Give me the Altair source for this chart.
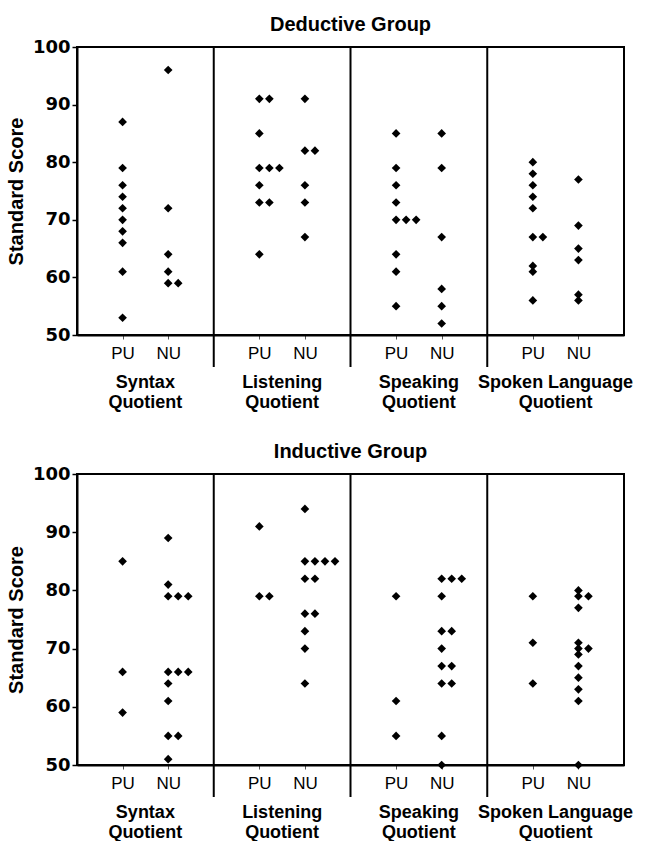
import altair as alt
import pandas as pd

subtests = ["Syntax\nQuotient", "Listening\nQuotient", "Speaking\nQuotient", "Spoken Language\nQuotient"]
units = ["PU", "NU"]

# Deductive group scores
ded_syntax_pu = [87, 79, 76, 74, 72, 70, 68, 66, 61, 53]
ded_syntax_nu = [96, 72, 64, 61, 59, 59]
ded_listen_pu = [91, 91, 85, 79, 79, 79, 76, 73, 73, 64]
ded_listen_nu = [91, 82, 82, 76, 73, 67]
ded_speak_pu = [85, 79, 76, 73, 70, 70, 70, 64, 61, 55]
ded_speak_nu = [85, 79, 67, 58, 55, 52]
ded_spoken_pu = [80, 78, 76, 74, 72, 67, 67, 62, 61, 56]
ded_spoken_nu = [77, 69, 65, 63, 57, 56]

# Inductive group scores
ind_syntax_pu = [85, 66, 59]
ind_syntax_nu = [89, 81, 79, 79, 79, 66, 66, 66, 64, 61, 55, 55, 51]
ind_listen_pu = [91, 79, 79]
ind_listen_nu = [94, 85, 85, 85, 85, 82, 82, 76, 76, 73, 70, 64]
ind_speak_pu = [79, 61, 55]
ind_speak_nu = [82, 82, 82, 79, 73, 73, 70, 67, 67, 64, 64, 55, 50]
ind_spoken_pu = [79, 71, 64]
ind_spoken_nu = [80, 79, 79, 77, 71, 70, 70, 69, 67, 65, 63, 61, 50]

deductive = [(ded_syntax_pu, ded_syntax_nu), (ded_listen_pu, ded_listen_nu),
             (ded_speak_pu, ded_speak_nu), (ded_spoken_pu, ded_spoken_nu)]
inductive = [(ind_syntax_pu, ind_syntax_nu), (ind_listen_pu, ind_listen_nu),
             (ind_speak_pu, ind_speak_nu), (ind_spoken_pu, ind_spoken_nu)]

FONT = "Liberation Sans"


def build_df(groups):
    rows = []
    for si, pair in enumerate(groups):
        for ui, vals in enumerate(pair):
            seen = {}
            for v in vals:
                k = seen.get(v, 0)
                seen[v] = k + 1
                rows.append({"subtest": si, "unit": units[ui], "pos": si * 3 + 1 + ui,
                             "score": v, "k": k})
    return pd.DataFrame(rows)


def make_panel(title, groups, width, height):
    df = build_df(groups)
    xscale = alt.Scale(domain=[0, 12], nice=False, zero=False)
    yscale = alt.Scale(domain=[50, 100], nice=False, zero=False)

    frame = alt.Chart(pd.DataFrame({"f": [0]})).mark_rect(
        fill=None, fillOpacity=0, stroke="black", strokeWidth=2
    ).encode(
        x=alt.value(0), x2=alt.value(width), y=alt.value(0), y2=alt.value(height)
    )

    points = alt.Chart(df).transform_calculate(
        xp="datum.pos + datum.k * 0.22"
    ).mark_point(shape="diamond", filled=True, size=75, color="black", opacity=1).encode(
        x=alt.X("xp:Q", scale=xscale,
                axis=alt.Axis(values=[1, 2, 4, 5, 7, 8, 10, 11], title=None, grid=False,
                              labelExpr="datum.value % 3 == 1 ? 'PU' : 'NU'",
                              labelFont=FONT, labelFontSize=17, labelColor="black",
                              labelPadding=6, tickSize=4, tickColor="#555", tickWidth=1,
                              domainColor="black", domainWidth=2)),
        y=alt.Y("score:Q", scale=yscale,
                axis=alt.Axis(values=[50, 60, 70, 80, 90, 100], title="Standard Score", grid=False,
                              labelFont="DejaVu Sans", labelFontWeight="bold", labelFontSize=18,
                              labelColor="black", labelPadding=2, tickSize=5, tickColor="black",
                              tickWidth=1.5, domainColor="black", domainWidth=2,
                              titleFont=FONT, titleFontSize=20, titleFontWeight="bold",
                              titleColor="black", titlePadding=6)),
    )

    divs = pd.DataFrame({"d": [3, 6, 9]})
    rules = alt.Chart(divs).mark_rule(color="black", strokeWidth=2).encode(
        x=alt.X("d:Q", scale=xscale),
        y=alt.value(0),
        y2=alt.value(height + 32),
    )

    labs = pd.DataFrame({"c": [1.5, 4.5, 7.5, 10.5], "t": subtests})
    labels = alt.Chart(labs).mark_text(
        lineBreak="\n", font=FONT, fontSize=18, fontWeight="bold", color="black",
        baseline="alphabetic", align="center", lineHeight=20
    ).encode(
        x=alt.X("c:Q", scale=xscale),
        y=alt.value(height + 53),
        text="t:N",
    )

    heading = alt.Chart(pd.DataFrame({"t": [title]})).mark_text(
        font=FONT, fontSize=20, fontWeight="bold", color="black",
        baseline="alphabetic", align="center"
    ).encode(
        x=alt.value(width / 2),
        y=alt.value(-16),
        text="t:N",
    )

    return alt.layer(frame, rules, points, labels, heading).properties(width=width, height=height)


top = make_panel("Deductive Group", deductive, 547, 288)
bottom = make_panel("Inductive Group", inductive, 547, 291)

chart = alt.vconcat(top, bottom, spacing=28).properties(
    padding={"left": 5, "top": 14, "right": 5, "bottom": 0}
).configure_view(stroke="black", strokeWidth=2).configure(background="white")

chart.save("out.html", embed_options={"renderer": "svg", "actions": False})
